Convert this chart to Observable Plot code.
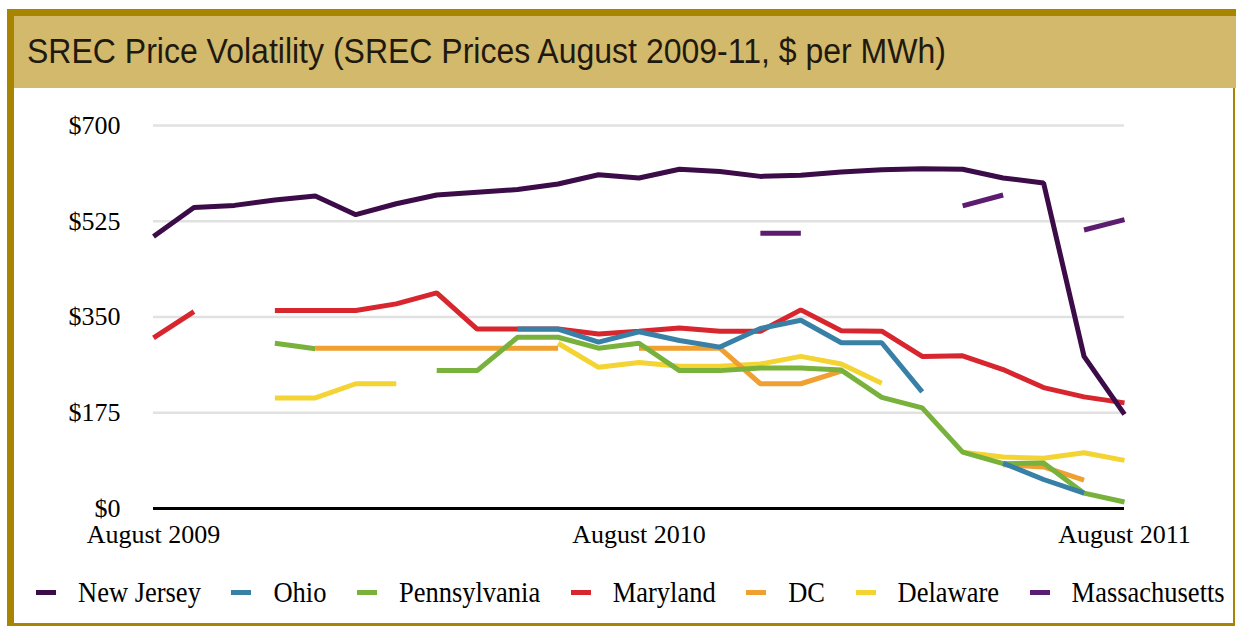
<!DOCTYPE html>
<html>
<head>
<meta charset="utf-8">
<script src="https://cdn.jsdelivr.net/npm/d3@7"></script>
<script src="https://cdn.jsdelivr.net/npm/@observablehq/plot@0.6"></script>
<style>
  body { margin: 0; background: #fff; }
  #frame { position: relative; width: 1236px; height: 626px; overflow: hidden; background: #fff; }
  .bar { position: absolute; background: #a88500; }
  #header { position: absolute; left: 14px; top: 16px; width: 1222px; height: 72px; background: #d3b96b; }
  #title { position: absolute; left: 13px; top: 19px; font-family: "Liberation Sans", Arial, sans-serif; font-size: 32px; line-height: 32px; color: #1f1a10; white-space: nowrap; transform: scaleY(1.07); transform-origin: left center; }
  #chart { position: absolute; left: 0; top: 88px; }
  #legend { position: absolute; left: 36px; top: 578px; display: flex; gap: 30.5px; font-family: "Liberation Serif", "Times New Roman", serif; font-size: 26.5px; line-height: 28px; color: #000; white-space: nowrap; }
  .item { display: flex; align-items: center; }
  .sw { width: 20px; height: 5px; margin-right: 22px; }
  .lbl { display: inline-block; transform: scaleY(1.12); transform-origin: center; }
</style>
</head>
<body>
<div id="frame">
  <div class="bar" style="left:7px;top:9px;width:1229px;height:7px;"></div>
  <div class="bar" style="left:7px;top:9px;width:7px;height:617px;"></div>
  <div class="bar" style="left:1233px;top:88px;width:2px;height:538px;"></div>
  <div class="bar" style="left:7px;top:623px;width:1228px;height:3px;"></div>
  <div id="header"><div id="title">SREC Price Volatility (SREC Prices August 2009-11, $ per MWh)</div></div>
  <div id="chart"></div>
  <div id="legend"></div>
</div>
<script>
const months = [
  "August 2009","September 2009","October 2009","November 2009","December 2009",
  "January 2010","February 2010","March 2010","April 2010","May 2010","June 2010","July 2010",
  "August 2010","September 2010","October 2010","November 2010","December 2010",
  "January 2011","February 2011","March 2011","April 2011","May 2011","June 2011","July 2011",
  "August 2011"
];
const xTicks = ["August 2009", "August 2010", "August 2011"];
const yTicks = [0, 175, 350, 525, 700];

const states = ["New Jersey", "Ohio", "Pennsylvania", "Maryland", "DC", "Delaware", "Massachusetts"];
const colors = ["#3b0c47", "#3880a5", "#78b13b", "#d8262e", "#f0a030", "#f3d432", "#5c1c6f"];

const newJersey    = [497, 550, 554, 564, 571, 537, 557, 573, 578, 583, 593, 610, 604, 620, 616, 607, 609, 615, 619, 621, 620, 604, 595, 278, 172];
const ohio         = [null, null, null, null, null, null, null, null, null, 328, 328, 304, 323, 307, 295, 329, 344, 303, 303, 213, null, 83, 53, 28, null];
const pennsylvania = [null, null, null, 302, 292, null, null, 252, 252, 313, 313, 293, 302, 252, 252, 257, 257, 253, 203, 184, 103, 82, 83, 28, 12];
const maryland     = [312, 360, null, 362, 362, 362, 374, 394, 328, 328, 328, 319, 324, 330, 324, 324, 363, 325, 324, 278, 279, 254, 221, 204, 193];
const dc           = [null, null, null, null, 293, 293, 293, 293, 293, 293, 293, null, 293, 293, 293, 228, 228, 251, null, null, null, 80, 76, 52, null];
const delaware     = [null, null, null, 202, 202, 228, 228, null, null, null, 302, 258, 267, 260, 260, 264, 278, 264, 229, null, 103, 94, 92, 102, 88];
const massachusetts= [null, null, null, null, null, null, null, null, null, null, null, null, null, null, null, 503, 503, null, null, null, 553, 573, null, 509, 528];

const valuesByState = {
  "New Jersey": newJersey, "Ohio": ohio, "Pennsylvania": pennsylvania, "Maryland": maryland,
  "DC": dc, "Delaware": delaware, "Massachusetts": massachusetts
};
// drawing order (bottom to top)
const drawOrder = ["Maryland", "Delaware", "DC", "Pennsylvania", "Ohio", "New Jersey", "Massachusetts"];

const rows = drawOrder.flatMap(state =>
  months.map((month, i) => ({state, month, value: valuesByState[state][i] == null ? NaN : valuesByState[state][i]}))
);

const chart = Plot.plot({
  width: 1236,
  height: 470,
  marginTop: 37,
  marginBottom: 50,
  marginLeft: 153,
  marginRight: 112,
  style: {fontFamily: "'Liberation Serif', 'Times New Roman', serif", fontSize: "26px", color: "#000", background: "transparent", overflow: "visible"},
  x: {type: "point", domain: months, padding: 0, round: false, ticks: xTicks, tickSize: 0, tickPadding: 16, label: null},
  y: {domain: [0, 700], ticks: yTicks, tickFormat: d => "$" + d, tickSize: 0, tickPadding: 33, label: null},
  color: {domain: states, range: colors},
  marks: [
    Plot.ruleY(yTicks.filter(d => d > 0), {stroke: "#e1e1e1", strokeWidth: 2.5}),
    Plot.ruleY([0], {stroke: "#000", strokeWidth: 3}),
    Plot.line(rows, {x: "month", y: "value", z: "state", stroke: "state", strokeWidth: 5, strokeLinecap: "butt", strokeLinejoin: "miter"})
  ]
});
document.getElementById("chart").appendChild(chart);

const legend = document.getElementById("legend");
states.forEach((s, i) => {
  const item = document.createElement("div");
  item.className = "item";
  const sw = document.createElement("span");
  sw.className = "sw";
  sw.style.background = colors[i];
  const label = document.createElement("span");
  label.className = "lbl";
  label.textContent = s;
  item.appendChild(sw);
  item.appendChild(label);
  legend.appendChild(item);
});
</script>
</body>
</html>
